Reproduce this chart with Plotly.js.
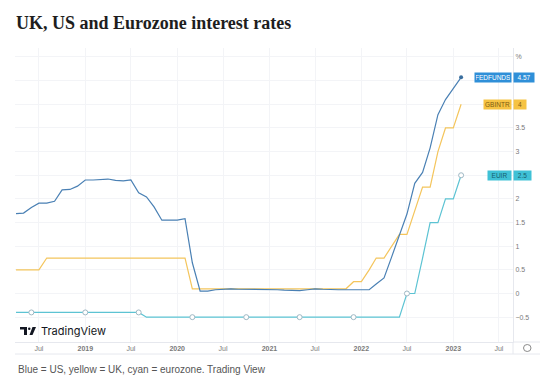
<!DOCTYPE html>
<html><head><meta charset="utf-8">
<script src="https://cdn.plot.ly/plotly-3.0.1.min.js"></script>
<style>html,body{margin:0;padding:0;background:#fff}#chart{width:550px;height:384px}</style>
</head><body><div id="chart"></div>
<script>
// Monthly observations, April 2018 to February 2023
const startYear = 2018, startMonthIndex = 3; // April
const fedfunds = [1.69,1.70,1.82,1.91,1.91,1.95,2.19,2.20,2.27,
  2.40,2.40,2.41,2.42,2.39,2.38,2.40,2.13,2.04,1.83,1.55,1.55,
  1.55,1.58,0.65,0.05,0.05,0.08,0.09,0.10,0.09,0.09,0.09,0.09,
  0.09,0.08,0.07,0.07,0.06,0.08,0.10,0.09,0.08,0.08,0.08,0.08,
  0.08,0.08,0.20,0.33,0.77,1.21,1.68,2.33,2.56,3.08,3.78,4.10,
  4.33,4.57];
const gbintr = [0.5,0.5,0.5,0.5,0.75,0.75,0.75,0.75,0.75,
  0.75,0.75,0.75,0.75,0.75,0.75,0.75,0.75,0.75,0.75,0.75,0.75,
  0.75,0.75,0.1,0.1,0.1,0.1,0.1,0.1,0.1,0.1,0.1,0.1,
  0.1,0.1,0.1,0.1,0.1,0.1,0.1,0.1,0.1,0.1,0.1,0.25,
  0.25,0.5,0.75,0.75,1.0,1.25,1.25,1.75,2.25,2.25,3.0,3.5,
  3.5,4.0];
const euir = [-0.4,-0.4,-0.4,-0.4,-0.4,-0.4,-0.4,-0.4,-0.4,
  -0.4,-0.4,-0.4,-0.4,-0.4,-0.4,-0.4,-0.4,-0.5,-0.5,-0.5,-0.5,
  -0.5,-0.5,-0.5,-0.5,-0.5,-0.5,-0.5,-0.5,-0.5,-0.5,-0.5,-0.5,
  -0.5,-0.5,-0.5,-0.5,-0.5,-0.5,-0.5,-0.5,-0.5,-0.5,-0.5,-0.5,
  -0.5,-0.5,-0.5,-0.5,-0.5,-0.5,0,0,0.75,1.5,1.5,2.0,
  2.0,2.5];
const seriesNames = ["FEDFUNDS","GBINTR","EUIR"];
const lastValues = ["4.57","4","2.5"];
const xTickVals = ["2018-07-01","2019-01-01","2019-07-01","2020-01-01","2020-07-01","2021-01-01","2021-07-01","2022-01-01","2022-07-01","2023-01-01","2023-07-01"];
const xTickText = ["Jul","<b>2019</b>","Jul","<b>2020</b>","Jul","<b>2021</b>","Jul","<b>2022</b>","Jul","<b>2023</b>","Jul"];
const yTickVals = [-0.5,0,0.5,1,1.5,2,2.5,3,3.5,4,4.5,5];
// 2.5, 4 and 4.5 sit under the last-value boxes
const yTickText = ["\u22120.5","0","0.5","1","1.5","2","","3","3.5","","","%"];
const caption = "Blue = US, yellow = UK, cyan = eurozone. Trading View";
const titleText = "UK, US and Eurozone interest rates";

const dates = fedfunds.map((_, i) => {
  const m = startMonthIndex + i;
  const y = startYear + Math.floor(m / 12);
  const mm = (m % 12) + 1;
  return y + "-" + String(mm).padStart(2, "0") + "-01";
});
const n = dates.length;
const mIdx = dates.map((_, i) => i).filter(i => (n - 1 - i) % 7 === 0);

const cBlue = "#4a80b4", cYellow = "#f4c55c", cCyan = "#5cc3d3";
const traces = [
  {x: dates, y: euir, mode: "lines", line: {color: cCyan, width: 1.2}, hoverinfo: "skip"},
  {x: mIdx.map(i => dates[i]), y: mIdx.map(i => euir[i]), mode: "markers",
   marker: {size: 5, color: "#fff", line: {color: "#9fb8c4", width: 1}}, hoverinfo: "skip"},
  {x: dates, y: gbintr, mode: "lines", line: {color: cYellow, width: 1.2}, hoverinfo: "skip"},
  {x: dates, y: fedfunds, mode: "lines", line: {color: cBlue, width: 1.2}, hoverinfo: "skip"},
  {x: [dates[n-1]], y: [fedfunds[n-1]], mode: "markers", marker: {size: 4, color: "#3a6e9e"}, hoverinfo: "skip"}
];

const L = 15, R = 513, T = 48, B = 342;
const px = p => (p - L) / (R - L);
const py = p => (B - p) / (B - T);

const boxes = [
  {name: seriesNames[0], val: lastValues[0], y: fedfunds[n-1], bg: "#2f8fd8", fg: "#ffffff", nx: 476, vx: 533},
  {name: seriesNames[1], val: lastValues[1], y: gbintr[n-1], bg: "#f6c343", fg: "#7d5c12", nx: 485, vx: 525},
  {name: seriesNames[2], val: lastValues[2], y: euir[n-1], bg: "#3fc1d6", fg: "#17606e", nx: 489, vx: 530}
];
const annotations = [];
boxes.forEach(b => {
  annotations.push({xref: "paper", yref: "y", x: px(512), y: b.y, xanchor: "right", yanchor: "middle",
    text: b.name, showarrow: false, bgcolor: b.bg, borderpad: 1, width: 512 - b.nx - 2, height: 7,
    font: {family: "Liberation Sans", size: 6.5, color: b.fg}});
  annotations.push({xref: "paper", yref: "y", x: px(513), y: b.y, xanchor: "left", yanchor: "middle",
    text: b.val, showarrow: false, bgcolor: b.bg, borderpad: 1, width: b.vx - 513 - 2, height: 7,
    font: {family: "Liberation Sans", size: 6.5, color: b.fg}});
});
annotations.push({xref: "paper", yref: "paper", x: px(39), y: py(331), xanchor: "left", yanchor: "middle",
  text: "TradingView", showarrow: false, font: {family: "Inter", size: 11, color: "#131722"}});
annotations.push({xref: "paper", yref: "paper", x: px(16), y: py(369), xanchor: "left", yanchor: "middle",
  text: caption, showarrow: false, font: {family: "Liberation Sans", size: 10, color: "#555"}});

const shapes = [
  // TradingView logo
  {type: "rect", xref: "paper", yref: "paper", x0: px(20), x1: px(27), y0: py(329.5), y1: py(327), fillcolor: "#131722", line: {width: 0}},
  {type: "rect", xref: "paper", yref: "paper", x0: px(24), x1: px(27), y0: py(335), y1: py(327), fillcolor: "#131722", line: {width: 0}},
  {type: "circle", xref: "paper", yref: "paper", x0: px(28), x1: px(30.5), y0: py(330), y1: py(327.5), fillcolor: "#131722", line: {width: 0}},
  {type: "path", xref: "paper", yref: "paper", path: "M " + px(32.5) + " " + py(327) + " L " + px(36) + " " + py(327) + " L " + px(32.5) + " " + py(335) + " L " + px(29.5) + " " + py(335) + " Z", fillcolor: "#131722", line: {width: 0}},
  // bottom band
  {type: "line", xref: "paper", yref: "paper", x0: 0, x1: px(540), y0: py(354), y1: py(354), line: {color: "#e6e8ee", width: 1}},
  {type: "line", xref: "paper", yref: "paper", x0: 1, x1: px(540), y0: 0, y1: 0, line: {color: "#e6e8ee", width: 1}},
  {type: "line", xref: "paper", yref: "paper", x0: 1, x1: 1, y0: py(354), y1: 0, line: {color: "#e6e8ee", width: 1}},
  {type: "circle", xref: "paper", yref: "paper", x0: px(523.5), x1: px(531), y0: py(351.5), y1: py(344.5), line: {color: "#8a8a8a", width: 1}}
];

const layout = {
  width: 550, height: 384,
  margin: {l: L, r: 550 - R, t: T, b: 384 - B},
  paper_bgcolor: "#fff", plot_bgcolor: "#fff",
  showlegend: false,
  title: {text: titleText, x: 16 / 550, xref: "container", xanchor: "left", y: 1 - 23 / 384, yref: "container", yanchor: "middle",
    font: {family: "Liberation Serif", size: 18, color: "#1e1e1e", weight: 700}},
  xaxis: {type: "date", range: ["2018-03-28", "2023-08-26"], tickvals: xTickVals, ticktext: xTickText,
    tickfont: {family: "Liberation Sans", size: 7, color: "#7a7a7a"}, showgrid: true, gridcolor: "#f3f4f7",
    zeroline: false, showline: true, linecolor: "#e6e8ee", ticks: "", fixedrange: true},
  yaxis: {side: "right", range: [-1.025, 5.19], tickvals: yTickVals, ticktext: yTickText,
    tickfont: {family: "Liberation Sans", size: 7, color: "#7a7a7a"}, showgrid: true, gridcolor: "#f3f4f7",
    zeroline: false, showline: true, linecolor: "#e6e8ee", ticks: "", fixedrange: true},
  annotations: annotations,
  shapes: shapes
};
Plotly.newPlot("chart", traces, layout, {displayModeBar: false, staticPlot: true});
</script>
</body></html>
